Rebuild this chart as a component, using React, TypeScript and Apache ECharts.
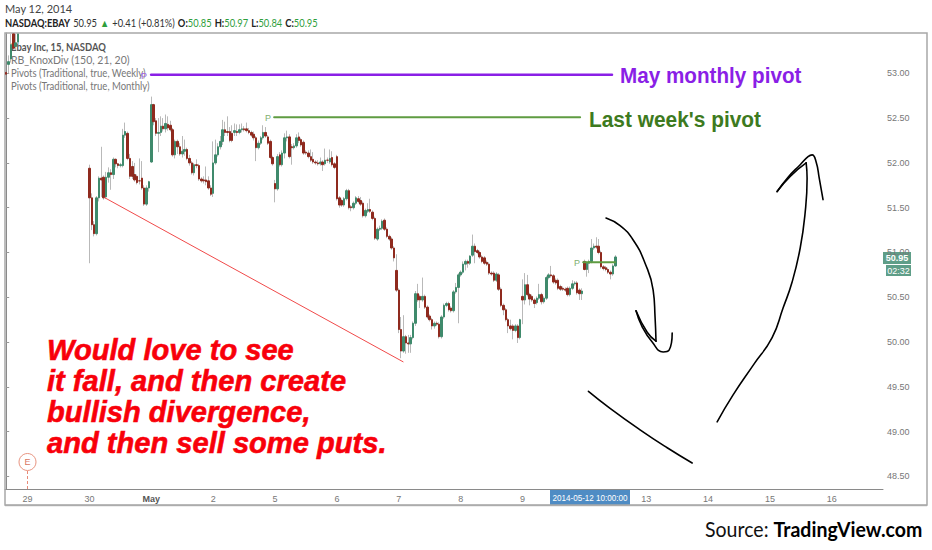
import React, { useEffect, useRef } from "react";
import * as echarts from "echarts";

// Each candle: [open, close, low, high]
const apr29Top = [
  [53.01, 52.99, 52.97, 53.12],
  [53.1, 53.13, 53.0, 53.2],
  [53.16, 53.32, 53.12, 53.44],
  [53.44, 53.28, 53.26, 53.44],
  [53.3, 53.34, 53.26, 53.44],
  [53.35, 53.44, 53.33, 53.44],
];
const apr30 = [
  [51.94, 51.61, 50.88, 51.98], [51.61, 51.31, 51.25, 51.66], [51.31, 51.21, 51.18, 51.35], [51.21, 51.61, 51.19, 51.63],
  [51.61, 51.83, 51.57, 51.85], [51.83, 51.81, 51.62, 52.18], [51.84, 51.61, 51.59, 51.86], [51.62, 51.84, 51.6, 51.9],
  [51.84, 51.89, 51.78, 51.95], [51.89, 51.87, 51.7, 51.93], [51.87, 52.04, 51.82, 52.06], [52.04, 51.99, 51.95, 52.05],
  [51.99, 51.97, 51.94, 52.0], [51.97, 51.98, 51.95, 52.0], [51.97, 52.31, 51.95, 52.38], [52.31, 52.35, 52.28, 52.45],
  [52.33, 52.05, 52.03, 52.35], [52.05, 51.85, 51.82, 52.1], [51.96, 51.85, 51.82, 52.02], [51.87, 51.81, 51.79, 52.0],
  [51.85, 51.78, 51.76, 51.87], [51.8, 51.8, 51.76, 52.05], [51.83, 51.72, 51.7, 52.02], [51.72, 51.54, 51.52, 51.75],
  [51.54, 51.72, 51.52, 51.75], [51.72, 51.79, 51.68, 51.8],
];
const may1 = [
  [52.01, 52.65, 52.0, 52.74], [52.65, 52.46, 52.42, 52.66], [52.47, 52.33, 52.3, 52.5], [52.33, 52.34, 52.12, 52.5],
  [52.34, 52.41, 52.3, 52.52], [52.41, 52.38, 52.35, 52.5], [52.38, 52.44, 52.34, 52.54], [52.43, 52.39, 52.36, 52.52],
  [52.42, 52.37, 52.35, 52.47], [52.37, 52.09, 52.07, 52.39], [52.09, 52.24, 52.05, 52.26], [52.24, 52.18, 52.1, 52.26],
  [52.18, 52.1, 52.08, 52.22], [52.1, 52.13, 52.06, 52.3], [52.13, 52.15, 52.08, 52.26], [52.15, 52.05, 52.03, 52.17],
  [52.05, 52.0, 51.97, 52.09], [52.0, 51.89, 51.87, 52.02], [51.89, 51.98, 51.86, 52.0], [51.98, 51.97, 51.94, 52.04],
  [51.97, 51.82, 51.8, 51.99], [51.82, 51.8, 51.78, 51.84], [51.81, 51.8, 51.77, 51.85], [51.81, 51.79, 51.75, 51.96],
  [51.8, 51.72, 51.7, 51.85], [51.72, 51.65, 51.63, 51.75],
];
const may2 = [
  [51.66, 52.0, 51.62, 52.24], [52.0, 52.09, 51.98, 52.26], [52.09, 52.18, 52.07, 52.22], [52.18, 52.24, 52.15, 52.3],
  [52.24, 52.37, 52.2, 52.48], [52.37, 52.34, 52.3, 52.46], [52.35, 52.34, 52.3, 52.52], [52.35, 52.25, 52.23, 52.4],
  [52.33, 52.25, 52.23, 52.42], [52.34, 52.36, 52.3, 52.44], [52.35, 52.34, 52.3, 52.43], [52.34, 52.37, 52.32, 52.43],
  [52.37, 52.38, 52.34, 52.44], [52.38, 52.37, 52.35, 52.41], [52.38, 52.36, 52.34, 52.45], [52.36, 52.34, 52.32, 52.39],
  [52.34, 52.31, 52.29, 52.36], [52.32, 52.28, 52.25, 52.35], [52.28, 52.17, 52.02, 52.3], [52.17, 52.22, 52.15, 52.25],
  [52.22, 52.28, 52.2, 52.3], [52.28, 52.34, 52.26, 52.42], [52.34, 52.3, 52.28, 52.4], [52.29, 52.22, 52.2, 52.31],
  [52.24, 52.06, 52.04, 52.26], [52.06, 51.99, 51.97, 52.08],
];
const may5 = [
  [51.77, 51.71, 51.56, 51.81], [51.71, 52.07, 51.69, 52.1], [52.09, 51.98, 51.96, 52.12], [51.98, 52.11, 51.96, 52.14],
  [52.11, 52.28, 52.05, 52.33], [52.28, 52.29, 52.24, 52.36], [52.29, 52.07, 52.05, 52.32], [52.18, 52.17, 51.98, 52.21],
  [52.17, 52.19, 52.15, 52.22], [52.19, 52.28, 52.17, 52.32], [52.29, 52.25, 52.22, 52.34], [52.26, 52.2, 52.18, 52.28],
  [52.23, 52.11, 52.09, 52.25], [52.12, 52.11, 52.09, 52.14], [52.11, 52.07, 52.05, 52.14], [52.07, 52.03, 52.01, 52.15],
  [52.04, 52.01, 51.99, 52.12], [52.01, 52.0, 51.98, 52.03], [52.0, 51.99, 51.97, 52.03], [51.99, 52.01, 51.97, 52.06],
  [52.01, 51.98, 51.91, 52.03], [51.99, 52.03, 51.97, 52.16], [52.03, 52.03, 52.0, 52.06], [52.01, 52.05, 51.99, 52.15],
  [52.06, 51.98, 51.96, 52.13], [51.99, 51.95, 51.93, 52.01],
];
const may6 = [
  [52.07, 51.6, 51.58, 52.09], [51.61, 51.53, 51.5, 51.63], [51.58, 51.53, 51.51, 51.6], [51.53, 51.6, 51.51, 51.62],
  [51.6, 51.69, 51.58, 51.71], [51.69, 51.5, 51.48, 51.71], [51.51, 51.5, 51.46, 51.53], [51.5, 51.55, 51.48, 51.57],
  [51.55, 51.61, 51.53, 51.63], [51.6, 51.57, 51.55, 51.63], [51.58, 51.54, 51.52, 51.62], [51.55, 51.41, 51.39, 51.57],
  [51.41, 51.47, 51.39, 51.49], [51.46, 51.48, 51.44, 51.55], [51.48, 51.46, 51.44, 51.6], [51.45, 51.38, 51.36, 51.47],
  [51.38, 51.16, 51.14, 51.4], [51.15, 51.26, 51.13, 51.28], [51.26, 51.27, 51.24, 51.3], [51.27, 51.35, 51.25, 51.37],
  [51.36, 51.26, 51.24, 51.38], [51.26, 51.18, 51.16, 51.28], [51.18, 51.15, 51.13, 51.2], [51.15, 51.05, 51.03, 51.17],
  [51.05, 50.94, 50.9, 51.07], [50.8, 50.58, 50.56, 50.98],
];
const may7 = [
  [50.58, 50.14, 50.1, 50.6], [50.14, 49.9, 49.82, 50.28], [49.9, 50.06, 49.88, 50.3], [50.06, 49.99, 49.87, 50.08],
  [49.99, 49.98, 49.88, 50.08], [49.98, 50.05, 49.88, 50.08], [50.05, 50.21, 50.03, 50.23], [50.21, 50.54, 50.18, 50.57],
  [50.54, 50.47, 50.45, 50.65], [50.51, 50.47, 50.38, 50.53], [50.47, 50.51, 50.45, 50.72], [50.51, 50.39, 50.37, 50.53],
  [50.39, 50.28, 50.26, 50.41], [50.29, 50.25, 50.23, 50.31], [50.25, 50.18, 50.14, 50.27], [50.18, 50.21, 50.15, 50.23],
  [50.21, 50.2, 50.18, 50.23], [50.2, 50.06, 50.04, 50.22], [50.06, 50.28, 50.04, 50.3], [50.28, 50.41, 50.26, 50.43],
  [50.41, 50.43, 50.39, 50.45], [50.43, 50.36, 50.34, 50.45], [50.38, 50.35, 50.33, 50.4], [50.35, 50.56, 50.33, 50.58],
  [50.56, 50.61, 50.54, 50.66], [50.61, 50.75, 50.21, 50.77],
];
const may8 = [
  [50.75, 50.78, 50.73, 50.8], [50.78, 50.87, 50.76, 50.9], [50.87, 50.9, 50.8, 50.92], [50.9, 50.88, 50.83, 50.92],
  [50.88, 50.96, 50.86, 50.97], [50.97, 51.07, 50.95, 51.2], [51.07, 51.01, 50.88, 51.1], [51.02, 51.0, 50.98, 51.04],
  [51.0, 50.95, 50.93, 51.02], [50.95, 50.9, 50.88, 50.97], [50.94, 50.88, 50.86, 50.96], [50.89, 50.87, 50.85, 50.91],
  [50.87, 50.77, 50.75, 50.89], [50.77, 50.76, 50.74, 50.79], [50.77, 50.69, 50.67, 50.79], [50.69, 50.76, 50.67, 50.78],
  [50.75, 50.59, 50.57, 50.77], [50.59, 50.41, 50.39, 50.61], [50.41, 50.36, 50.3, 50.43], [50.36, 50.25, 50.23, 50.38],
  [50.25, 50.18, 50.1, 50.27], [50.18, 50.15, 50.13, 50.25], [50.18, 50.13, 50.03, 50.2], [50.13, 50.18, 50.11, 50.2],
  [50.18, 50.05, 49.99, 50.2], [50.05, 50.25, 50.03, 50.26],
];
const may9 = [
  [50.51, 50.47, 50.2, 50.7], [50.47, 50.64, 50.42, 50.77], [50.64, 50.53, 50.51, 50.75], [50.53, 50.48, 50.41, 50.55],
  [50.51, 50.47, 50.45, 50.53], [50.47, 50.43, 50.38, 50.49], [50.44, 50.49, 50.42, 50.51], [50.49, 50.53, 50.47, 50.65],
  [50.53, 50.45, 50.42, 50.55], [50.45, 50.49, 50.43, 50.51], [50.49, 50.72, 50.47, 50.74], [50.72, 50.75, 50.7, 50.77],
  [50.75, 50.74, 50.72, 50.85], [50.74, 50.67, 50.65, 50.76], [50.69, 50.66, 50.64, 50.71], [50.69, 50.6, 50.58, 50.71],
  [50.62, 50.59, 50.57, 50.64], [50.6, 50.59, 50.57, 50.62], [50.59, 50.58, 50.56, 50.61], [50.6, 50.53, 50.51, 50.62],
  [50.53, 50.6, 50.51, 50.62], [50.6, 50.65, 50.58, 50.69], [50.65, 50.66, 50.63, 50.68], [50.66, 50.55, 50.53, 50.68],
  [50.58, 50.54, 50.47, 50.6], [50.54, 50.57, 50.47, 50.6],
];
const may12 = [
  [50.9, 50.81, 50.8, 50.92], [50.81, 50.88, 50.73, 50.9], [50.88, 50.9, 50.77, 50.92], [50.9, 51.05, 50.88, 51.15],
  [51.05, 51.07, 51.03, 51.1], [51.07, 51.06, 51.04, 51.17], [51.07, 51.0, 50.98, 51.15], [51.0, 50.84, 50.82, 51.02],
  [50.84, 50.82, 50.8, 50.86], [50.83, 50.81, 50.79, 50.85], [50.81, 50.78, 50.76, 50.83], [50.78, 50.76, 50.7, 50.8],
  [50.76, 50.85, 50.74, 50.87], [50.85, 50.95, 50.84, 50.97],
];

const tradingDays = [apr30, may1, may2, may5, may6, may7, may8, may9, may12];
const dayLabels = ["29", "30", "May", "2", "5", "6", "7", "8", "9", "", "13", "14", "15", "16"];
const priceTicks = [48.5, 49, 49.5, 50, 50.5, 51, 51.5, 52, 52.5, 53];

const barCount = 369;
const barsPerDay = 26;
const firstLabelBar = 9;
const firstDayBar = 35;

// Overlays: [bar position, price]
const monthlyPivot = [[60.9, 52.985], [254.6, 52.985]];
const weeklyPivot = [[112.6, 52.51], [241.2, 52.51]];
const currentPivot = [[242.5, 50.89], [255.9, 50.89]];
const divergenceLine = [[41.5, 51.61], [166.8, 49.78]];
const inkStrokes = [
  [[252.1, 51.385], [258, 51.3], [263.5, 51.14], [268.5, 50.88], [271.9, 50.58], [272.7, 50.28], [273.1, 50.01]],
  [[273.1, 50.01], [269.4, 50.11], [264.7, 50.35]],
  [[264.7, 50.35], [267.3, 50.17], [271.5, 50.0], [276.1, 49.89], [278.6, 49.91], [279.9, 50.1]],
  [[244.7, 49.45], [253.8, 49.26], [266.4, 49.02], [277.8, 48.82], [288.3, 48.65]],
  [[298.8, 49.11], [305.5, 49.41], [313.9, 49.74], [321.9, 50.05], [326.5, 50.38], [330.3, 50.67], [333.7, 51.05], [335.8, 51.45], [336.6, 51.83], [336.2, 52.0]],
  [[336.2, 52.0], [329.5, 51.85], [324, 51.68]],
  [[324, 51.68], [328.6, 51.84], [333.7, 51.98], [337, 52.07], [338.7, 52.09], [340.4, 52.01], [341.7, 51.83], [343.3, 51.59]],
];

const redText = ["Would love to see", "it fall, and then create", "bullish divergence,", "and then sell some puts."];

const GREEN = "#3f8a6c";
const RED = "#8f2a1e";
const WICK = "#b9b9b9";

function buildCandles() {
  const rows: any[] = Array.from({ length: barCount }, () => ["-", "-", "-", "-"]);
  apr29Top.forEach((r, i) => (rows[i] = r));
  tradingDays.forEach((day, d) => {
    day.forEach((r, i) => (rows[firstDayBar + d * barsPerDay + i] = r));
  });
  return rows;
}

const categories = Array.from({ length: barCount }, (_, i) => {
  const k = (i - firstLabelBar) / barsPerDay;
  return Number.isInteger(k) && k >= 0 && k < dayLabels.length ? dayLabels[k] : "";
});

export default function App() {
  const ref = useRef<HTMLDivElement>(null);
  useEffect(() => {
    const chart = echarts.init(ref.current!, undefined, { renderer: "svg" });
    const rows = buildCandles();
    const bodies = rows.map((r) =>
      r[0] === "-" ? r : [r[0], r[1], Math.min(r[0], r[1]), Math.max(r[0], r[1])]
    );
    const labelShown = (_: number, v: string) => v !== "";
    const lineSeries = (data: number[][], color: string, width: number, smooth: boolean) => ({
      type: "line",
      xAxisIndex: 1,
      data,
      smooth,
      showSymbol: false,
      symbol: "none",
      z: 5,
      lineStyle: { color, width, cap: "round", join: "round" },
    });
    const FONT = "Lato, sans-serif";
    chart.setOption({
      animation: false,
      backgroundColor: "#fff",
      grid: { left: 5, right: 49, top: 33, bottom: 61 },
      xAxis: [
        {
          type: "category",
          data: categories,
          boundaryGap: true,
          axisLine: { lineStyle: { color: "#8a8a8a", width: 1 } },
          axisTick: { interval: labelShown, alignWithLabel: true, length: 3, lineStyle: { color: "#999" } },
          axisLabel: {
            interval: labelShown,
            color: "#777",
            fontSize: 9,
            fontFamily: "Liberation Sans",
            margin: 5,
            formatter: (v: string) => (v === "May" ? "{b|May}" : v),
            rich: { b: { color: "#555", fontWeight: "bold", fontSize: 9, fontFamily: "Liberation Sans" } },
          },
          splitLine: { show: false },
        },
        { type: "value", min: -0.5, max: barCount - 0.5, show: false, splitLine: { show: false } },
      ],
      yAxis: {
        type: "value",
        position: "right",
        min: 48.36,
        max: 53.45,
        scale: true,
        axisLine: { show: true, lineStyle: { color: "#8a8a8a", width: 1 } },
        axisTick: { show: true, length: 3, customValues: priceTicks, lineStyle: { color: "#999" } },
        axisLabel: {
          color: "#777",
          fontSize: 9,
          fontFamily: "Liberation Sans",
          margin: 4,
          customValues: priceTicks,
          formatter: (v: number) => v.toFixed(2),
        },
        splitLine: { show: false },
      },
      series: [
        {
          type: "candlestick",
          data: rows,
          barWidth: 1,
          z: 2,
          itemStyle: { color: WICK, color0: WICK, borderColor: WICK, borderColor0: WICK, borderColorDoji: WICK, borderWidth: 1 },
        },
        {
          type: "candlestick",
          data: bodies,
          barWidth: 2,
          z: 3,
          itemStyle: { color: GREEN, color0: RED, borderColor: GREEN, borderColor0: RED, borderColorDoji: RED, borderWidth: 1 },
        },
        lineSeries(monthlyPivot, "#8a1fe6", 2.5, false),
        lineSeries(weeklyPivot, "#5f9c42", 2, false),
        lineSeries(currentPivot, "#5f9c42", 2, false),
        lineSeries(divergenceLine, "#f04a4a", 1, false),
        ...inkStrokes.map((s) => lineSeries(s, "#000", 1.6, true)),
      ],
      graphic: [
        { type: "rect", silent: true, z: 1, shape: { x: 5, y: 33, width: 922, height: 472 }, style: { fill: "none", stroke: "#a8a8a8", lineWidth: 1.5 } },
        { type: "line", shape: { x1: 5, y1: 505.5, x2: 927, y2: 505.5 }, style: { stroke: "#bbb", lineWidth: 1.5 } },
        // header
        { type: "text", x: 5, y: 3, style: { text: "May 12, 2014", fill: "#444", font: `11px ${FONT}` } },
        {
          type: "text",
          x: 5,
          y: 17,
          scaleX: 0.89,
          style: {
            text: "{b|NASDAQ:EBAY} {n|50.95} {g|▲} {n|+0.41 (+0.81%)} {b|O:}{g|50.85} {b|H:}{g|50.97} {b|L:}{g|50.84} {b|C:}{g|50.95}",
            rich: {
              b: { font: `bold 10.5px ${FONT}`, fill: "#222" },
              n: { font: `10.5px ${FONT}`, fill: "#333" },
              g: { font: `10.5px ${FONT}`, fill: "#2f9e3c" },
            },
          },
        },
        // study legend
        { type: "text", x: 11, y: 41, scaleX: 0.9, style: { text: "Ebay Inc, 15, NASDAQ", fill: "#555", font: `bold 10.5px ${FONT}` } },
        { type: "text", x: 11, y: 54, style: { text: "RB_KnoxDiv (150, 21, 20)", fill: "#777", font: `10.5px ${FONT}` } },
        { type: "text", x: 11, y: 67, scaleX: 0.91, style: { text: "Pivots (Traditional, true, Weekly)", fill: "#777", font: `10.5px ${FONT}` } },
        { type: "text", x: 11, y: 80, scaleX: 0.91, style: { text: "Pivots (Traditional, true, Monthly)", fill: "#777", font: `10.5px ${FONT}` } },
        // pivot markers
        { type: "text", x: 141, y: 71, style: { text: "P", fill: "#a060e0", font: "9px Liberation Sans" } },
        { type: "text", x: 265, y: 113, style: { text: "P", fill: "#7fb070", font: "9px Liberation Sans" } },
        { type: "text", x: 574, y: 258, style: { text: "P", fill: "#7fb070", font: "9px Liberation Sans" } },
        // annotations
        { type: "text", x: 620, y: 75.5, scaleX: 0.94, style: { text: "May monthly pivot", fill: "#8a1fe6", font: "bold 22px Liberation Sans", verticalAlign: "middle" } },
        { type: "text", x: 589, y: 119.5, scaleX: 0.95, style: { text: "Last week's pivot", fill: "#3d7a20", font: "bold 22px Liberation Sans", verticalAlign: "middle" } },
        ...redText.map((t, i) => ({
          type: "text",
          x: 47,
          y: 334 + i * 31,
          scaleX: 0.97,
          style: { text: t, fill: "#f8000a", stroke: "#f8000a", lineWidth: 0.6, font: "italic bold 30px Liberation Sans" },
        })),
        // earnings marker
        { type: "line", shape: { x1: 27.5, y1: 471, x2: 27.5, y2: 489 }, style: { stroke: "#e88a78", lineWidth: 1, lineDash: [3, 2] } },
        { type: "circle", shape: { cx: 27.5, cy: 462, r: 8.5 }, style: { fill: "#fff", stroke: "#e8937f", lineWidth: 1 } },
        { type: "text", x: 27.5, y: 462, style: { text: "E", fill: "#d9765f", font: "9px Liberation Sans", align: "center", verticalAlign: "middle" } },
        // crosshair time label
        { type: "rect", shape: { x: 550, y: 490, width: 80, height: 15 }, style: { fill: "#4f8cc4" } },
        { type: "text", x: 590, y: 497.5, scaleX: 0.9, style: { text: "2014-05-12 10:00:00", fill: "#fff", font: "9px Liberation Sans", align: "center", verticalAlign: "middle" } },
        // last price labels
        { type: "rect", shape: { x: 883, y: 252, width: 28, height: 12 }, style: { fill: "#5f9e88" } },
        { type: "text", x: 897, y: 258, style: { text: "50.95", fill: "#fff", font: "bold 9px Liberation Sans", align: "center", verticalAlign: "middle" } },
        { type: "rect", shape: { x: 886, y: 265, width: 25, height: 11 }, style: { fill: "#5f9e88" } },
        { type: "text", x: 898.5, y: 270.5, style: { text: "02:32", fill: "#fff", font: "9px Liberation Sans", align: "center", verticalAlign: "middle" } },
        // source
        {
          type: "text",
          x: 705,
          y: 518,
          scaleX: 0.93,
          style: {
            text: "{n|Source: }{b|TradingView.com}",
            rich: {
              n: { font: "21px Lato", fill: "#111" },
              b: { font: "bold 21px Lato", fill: "#000" },
            },
          },
        },
      ],
    });
    return () => chart.dispose();
  }, []);
  return <div ref={ref} style={{ position: "absolute", left: 0, top: 0, width: 932, height: 550 }} />;
}
